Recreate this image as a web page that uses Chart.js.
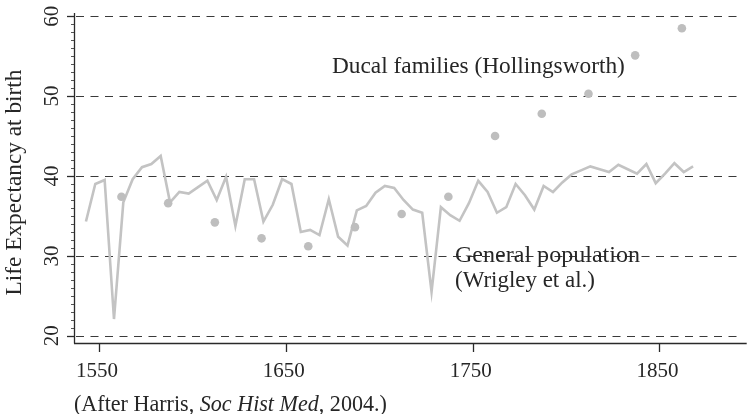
<!DOCTYPE html>
<html><head><meta charset="utf-8">
<script src="https://cdn.jsdelivr.net/npm/chart.js@4/dist/chart.umd.min.js"></script>
<style>html,body{margin:0;padding:0;background:#fff;overflow:hidden}#wrap{width:751px;height:414px;position:relative}</style>
</head><body><div id="wrap"><canvas id="c" width="751" height="414"></canvas></div>
<script>
// ---- data ----
const popYears = [1543,1548,1553,1558,1563,1568,1573,1578,1583,1588,1593,1598,1603,1608,1613,1618,1623,1628,1633,1638,
  1643,1648,1653,1658,1663,1668,1673,1678,1683,1688,1693,1698,1703,1708,1713,1718,1723,1728,1733,1738,
  1743,1748,1753,1758,1763,1768,1773,1778,1783,1788,1793,1798,1803,1808,1813,1818,1823,1828,1833,1838,
  1843,1848,1853,1858,1863,1868];
const popLifeExp = [34.3,39.0,39.5,22.1,36.7,39.6,41.1,41.5,42.5,36.7,38.0,37.8,38.6,39.4,37.0,39.9,33.75,39.6,39.6,34.3,
  36.4,39.6,39.0,33.0,33.25,32.6,37.1,32.4,31.3,35.7,36.25,37.9,38.75,38.5,37.0,35.8,35.4,25.5,36.1,35.1,
  34.4,36.6,39.4,38.0,35.4,36.1,39.0,37.6,35.8,38.75,38.0,39.2,40.2,40.7,41.2,40.85,40.5,41.4,40.85,40.3,
  41.5,39.1,40.3,41.6,40.5,41.2];
const ducalYears = [1562,1587,1612,1637,1662,1687,1712,1737,1762,1787,1812,1837,1862];
const ducalLifeExp = [37.4,36.6,34.2,32.2,31.2,33.6,35.25,37.4,45.0,47.8,50.3,55.1,58.5];
const xTickLabels = [1550,1650,1750,1850];
const yTickLabels = [20,30,40,50,60];
const yAxisTitle = 'Life Expectancy at birth';
const ducalLabel = 'Ducal families (Hollingsworth)';
const popLabel1 = 'General population';
const popLabel2 = '(Wrigley et al.)';
const captionParts = [['(After Harris, ',''],['Soc Hist Med','italic'],[', 2004.)','']];

const FAMILY = '"Liberation Serif", "DejaVu Serif", serif';
const TXT = '#262626';

function fitSize(ctx, parts, target){
  let w = 0;
  parts.forEach(p=>{ ctx.font = `${p[1]||''} 100px ${FAMILY}`; w += ctx.measureText(p[0]).width; });
  return 100*target/w;
}

const axesPlugin = {
  id:'axesPlugin',
  beforeDatasetsDraw(chart){
    const {ctx, chartArea:a, scales:{x,y}} = chart;
    ctx.save();
    ctx.strokeStyle = '#3a3a3a'; ctx.lineWidth = 1.2; ctx.setLineDash([8,6.5]);
    yTickLabels.forEach(v=>{
      const py = Math.round(y.getPixelForValue(v))+0.5;
      ctx.beginPath(); ctx.moveTo(a.left+2, py); ctx.lineTo(a.right-8, py); ctx.stroke();
    });
    ctx.restore();
  },
  afterDraw(chart){
    const {ctx, chartArea:a, scales:{x,y}} = chart;
    ctx.save();
    ctx.strokeStyle = '#2a2a2a'; ctx.lineWidth = 1.3; ctx.setLineDash([]);
    // axis lines
    ctx.beginPath(); ctx.moveTo(a.left+0.5, a.top); ctx.lineTo(a.left+0.5, a.bottom+0.5); ctx.stroke();
    ctx.beginPath(); ctx.moveTo(a.left, a.bottom+0.5); ctx.lineTo(a.right, a.bottom+0.5); ctx.stroke();
    // y ticks
    yTickLabels.forEach(v=>{
      const py = Math.round(y.getPixelForValue(v))+0.5;
      ctx.beginPath(); ctx.moveTo(a.left-7, py); ctx.lineTo(a.left, py); ctx.stroke();
    });
    ctx.lineWidth = 0.8;
    for(let v=yTickLabels[0]; v<yTickLabels[yTickLabels.length-1]; v+=1){
      if(yTickLabels.includes(v)) continue;
      const py = Math.round(y.getPixelForValue(v))+0.5;
      ctx.beginPath(); ctx.moveTo(a.left-3, py); ctx.lineTo(a.left, py); ctx.stroke();
    }
    ctx.lineWidth = 1.3;
    // x ticks
    xTickLabels.forEach(v=>{
      const px = Math.round(x.getPixelForValue(v))+0.5;
      ctx.beginPath(); ctx.moveTo(px, a.bottom); ctx.lineTo(px, a.bottom+9); ctx.stroke();
    });
    ctx.fillStyle = TXT;
    // x tick labels
    const tickSize = fitSize(ctx, [['1550','']], 42);
    ctx.font = `${tickSize}px ${FAMILY}`;
    ctx.textAlign = 'center'; ctx.textBaseline = 'alphabetic';
    xTickLabels.forEach(v=>{ ctx.fillText(String(v), x.getPixelForValue(v)-2, 377); });
    // y tick labels (rotated)
    yTickLabels.forEach(v=>{
      ctx.save(); ctx.translate(58, y.getPixelForValue(v)); ctx.rotate(-Math.PI/2);
      ctx.fillText(String(v), 0, 0); ctx.restore();
    });
    // y title
    const tSize = fitSize(ctx, [[yAxisTitle,'']], 226);
    ctx.font = `${tSize}px ${FAMILY}`;
    ctx.save(); ctx.translate(21, 182.5); ctx.rotate(-Math.PI/2); ctx.fillText(yAxisTitle,0,0); ctx.restore();
    // annotations
    ctx.textAlign = 'left';
    ctx.font = `${fitSize(ctx, [[ducalLabel,'']], 293)}px ${FAMILY}`;
    ctx.fillText(ducalLabel, 332, 73);
    ctx.font = `${fitSize(ctx, [[popLabel1,'']], 185)}px ${FAMILY}`;
    ctx.fillText(popLabel1, 455, 261.5);
    ctx.font = `${fitSize(ctx, [[popLabel2,'']], 140)}px ${FAMILY}`;
    ctx.fillText(popLabel2, 455, 287);
    // caption
    const cSize = fitSize(ctx, captionParts, 313);
    let cx = 74;
    captionParts.forEach(p=>{
      ctx.font = `${p[1]} ${cSize}px ${FAMILY}`;
      ctx.fillText(p[0], cx, 411);
      cx += ctx.measureText(p[0]).width;
    });
    ctx.restore();
  }
};

new Chart(document.getElementById('c'), {
  type:'scatter',
  data:{datasets:[
    {label:'General population', data: popYears.map((yr,i)=>({x:yr, y:popLifeExp[i]})),
     showLine:true, borderColor:'#c3c3c3', borderWidth:2.6, pointRadius:0, tension:0, fill:false, order:2,
     borderJoinStyle:'miter'},
    {label:'Ducal families', data: ducalYears.map((yr,i)=>({x:yr, y:ducalLifeExp[i]})),
     showLine:false, pointRadius:4.3, pointBackgroundColor:'#bebebe', pointBorderWidth:0, order:1}
  ]},
  options:{
    responsive:false, animation:false, devicePixelRatio:1,
    layout:{padding:{left:74, top:13, right:0, bottom:71}},
    plugins:{legend:{display:false}, tooltip:{enabled:false}},
    scales:{
      x:{type:'linear', min:1536.6, max:1896.7, display:false},
      y:{type:'linear', min:19.1, max:60.4, display:false}
    }
  },
  plugins:[axesPlugin]
});
</script>
</body></html>
